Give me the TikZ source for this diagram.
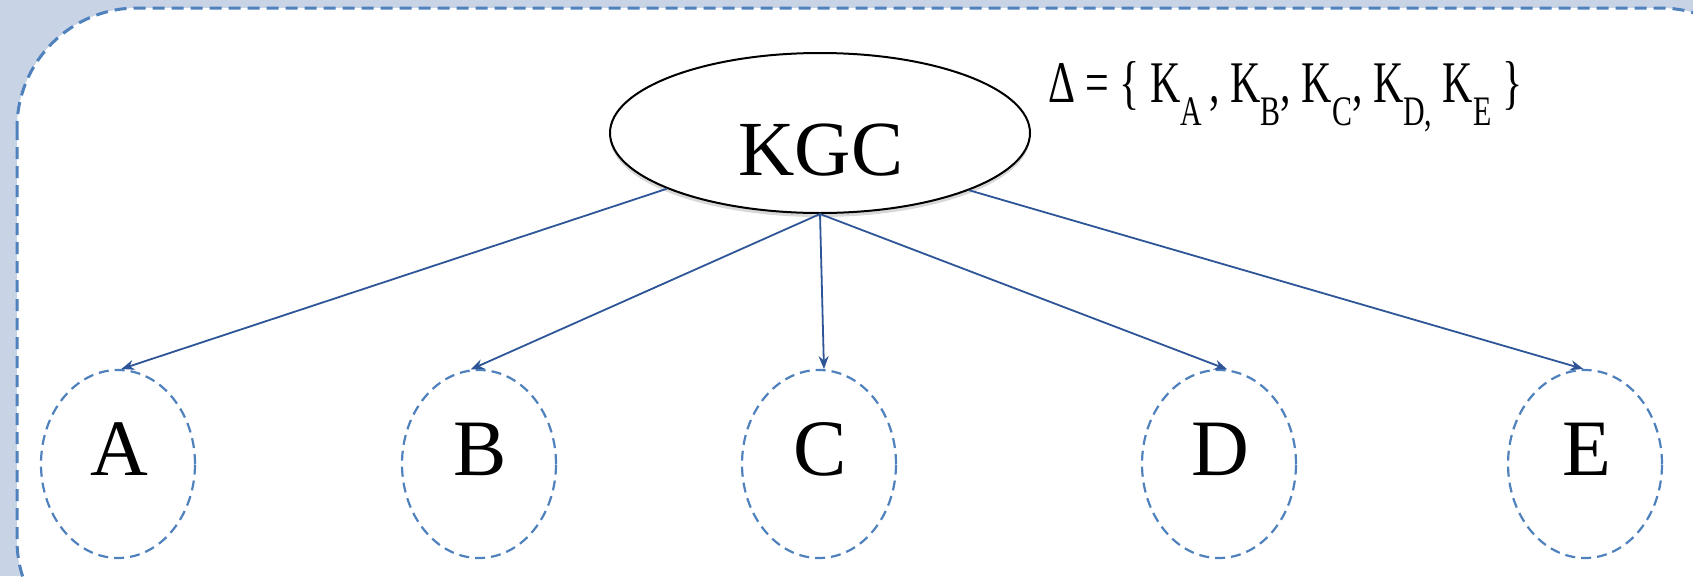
\documentclass[tikz,border=0pt]{standalone}
\usepackage{fontspec}
\setmainfont{Liberation Serif}
\usetikzlibrary{shapes.geometric,arrows.meta,shadows}
\definecolor{bgblue}{HTML}{C9D3E6}
\definecolor{dashblue}{HTML}{4F81BD}
\definecolor{arrowblue}{HTML}{2E5597}
\newcommand{\subk}[1]{\raisebox{-23pt}{\fontsize{42}{42}\selectfont #1}}
\begin{document}
\begin{tikzpicture}[x=1pt,y=-1pt,
  kgcbox/.style={ellipse, draw=black, line width=2pt, fill=white,
    minimum width=420pt, minimum height=160pt, inner sep=0pt,
    drop shadow={opacity=0.25, shadow xshift=0pt, shadow yshift=-4pt, fill=black!60}},
  party/.style={ellipse, draw=dashblue, line width=2.2pt, dash pattern=on 10pt off 6pt,
    minimum width=154pt, minimum height=188pt, inner sep=0pt},
  bigtext/.style={font=\fontsize{78}{80}\selectfont, inner sep=0pt, anchor=base},
  letter/.style={font=\fontsize{80}{82}\selectfont, inner sep=0pt, anchor=base},
  link/.style={draw=arrowblue, line width=1.8pt, -{Stealth[length=13pt,width=10pt]}}]
\useasboundingbox (0,0) rectangle (1693,576);
\clip (0,0) rectangle (1693,576);
\fill[bgblue] (0,0) rectangle (1693,576);
\draw[dashblue, fill=white, line width=3pt, dash pattern=on 12pt off 7pt, rounded corners=120pt]
  (17,8) rectangle (1780,660);

\node[kgcbox] (kgc) at (820,133) {};
\node[bigtext] (kgctxt) at (821,175) {KGC};

\node[party] (a) at (118,464) {};
\node[party] (b) at (479,464) {};
\node[party] (c) at (819,464) {};
\node[party] (d) at (1219,464) {};
\node[party] (e) at (1585,464) {};

\node[letter] (atxt) at (119,475) {A};
\node[letter] (btxt) at (480,475) {B};
\node[letter] (ctxt) at (820,475) {C};
\node[letter] (dtxt) at (1220,475) {D};
\node[letter] (etxt) at (1587,475) {E};

\node[inner sep=0pt, anchor=base west, font=\fontsize{59}{60}\selectfont] (delta) at (1048,102)
  {\resizebox{474pt}{\height}{Δ = \{ K\subk{A}\,, K\subk{B}, K\subk{C}, K\subk{D,} K\subk{E} \}}};

\draw[link] (kgc.200) -- (a.88);
\draw[link] (kgc.south) -- (b.95);
\draw[link] (kgc.south) -- (c.87);
\draw[link] (kgc.south) -- (d.85);
\draw[link] (kgc.-21) -- (e.91);
\end{tikzpicture}
\end{document}
